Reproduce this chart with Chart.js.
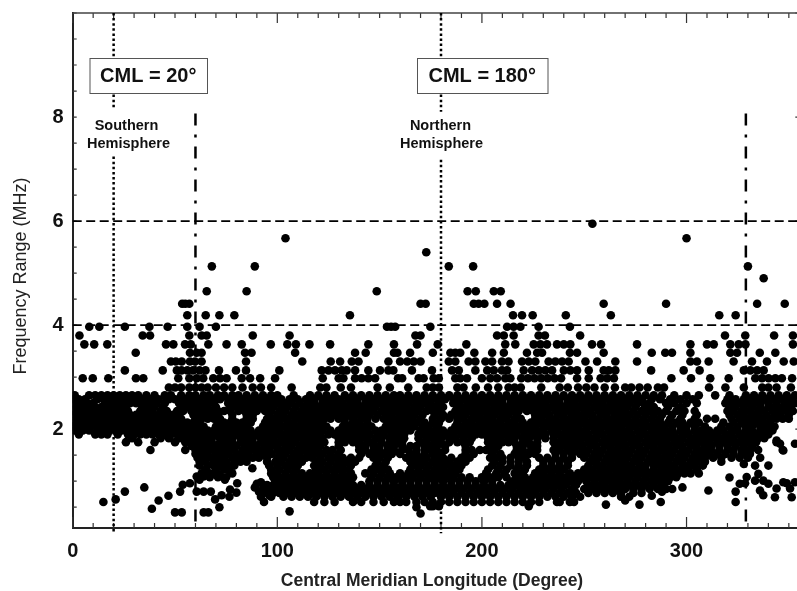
<!DOCTYPE html>
<html>
<head>
<meta charset="utf-8">
<title>CML frequency range</title>
<script src="https://cdn.jsdelivr.net/npm/chart.js@4"></script>
<style>
html, body { margin: 0; background: #fff; overflow: hidden; width: 797px; height: 591px; }
canvas { display: block; }
</style>
</head>
<body>
<canvas id="c" width="830" height="591"></canvas>
<script>
// axis ticks
const xTicks = [0,10,20,30,40,50,60,70,80,90,100,110,120,130,140,150,160,170,180,190,200,210,220,230,240,250,260,270,280,290,300,310,320,330,340,350,360];
const yTicks = [0.5,1,1.5,2,2.5,3,3.5,4,4.5,5,5.5,6,6.5,7,7.5,8,8.5,9,9.5,10];

// isolated high points, longitude and frequency
const highLon = [104,68,89,65.5,85,148.6,172.8,183.8,195.7,193,197,205.8,209.2,254,300,330,337.7];
const highFreq = [5.67,5.13,5.13,4.65,4.65,4.65,5.4,5.13,5.13,4.65,4.65,4.65,4.65,5.95,5.67,5.13,4.9];

// isolated low points
const lowLon = [15,21,25.5,35,38.7,42,46.8,50,53.3,52.5,53.8,57.3,60.6,62,64,67,60.6,64,67.5,69.6,72.8,76.6,76.9,80,80.4,71.7,64,66.3,74.4,72,76.9,87.8,90,92,89,91,96,93.5,106,
  168,170,174.7,176,179,222.9,236.7,243,260.6,270,277,287.4,283,288,293,298,310.7,321,324,324,326,328,333.5,340,
  329.4,328.6,333.5,335.1,337.5,340,335.9,337.5,343.2,344,347.3,350.6,349,353,351.4,345.7,347.3,344,353];
const lowFreq = [0.6,0.65,0.8,0.88,0.47,0.63,0.72,0.4,0.4,0.8,0.93,0.96,1.09,1.03,1.09,1.15,0.8,0.8,0.8,0.65,0.73,0.7,0.84,0.78,0.96,0.5,0.4,0.4,1.03,1.12,1.18,1.25,0.95,0.98,0.88,0.8,0.73,0.6,0.42,
  0.5,0.38,0.52,0.52,0.52,0.52,0.6,0.6,0.55,0.63,0.55,0.6,0.72,0.8,0.85,0.88,0.82,1.07,0.8,0.6,0.95,1.33,1.3,1.3,
  1.08,0.96,1.01,1.14,1.01,0.95,0.82,0.73,0.69,0.86,0.98,0.86,0.96,0.98,0.69,1.72,1.59,1.78,1.72];

// frequency rows, the receiver steps make these levels
const rowLevels = [4.41,4.19,3.97,3.8,3.63,3.47,3.3,3.13,2.98,2.8,2.65,2.575,2.5,2.425,2.35,2.275,2.2,2.125,2.05,1.975,1.9,1.825,1.75,1.675,1.6,1.525,1.45,1.375,1.3,1.225,1.15,1.075,1,0.925,0.85,0.775,0.7,0.6];
const r441 = [53.5,55,57,170,172.5,196,198.4,201.2,207.4,214,259.5,290,334.5,348];
const r419 = [56,65,71.7,79,135.5,215.2,219.6,224.8,241,263,316,324];
const r397 = [8.1,13,25.5,37.5,46.4,56,62,70,153.6,155.6,157.6,174.8,212.3,215.5,218.8,227.7,243];
const r380 = [3.3,34.2,37.8,57,63,65.5,88,106,167.5,170,207.4,210.7,215.5,227.7,230.8,248,318.8,328.7,342.8,352];
const r363 = [5.7,10.5,16.9,45.6,49.2,54.9,57.7,66.3,75.2,82.6,96.8,104.9,109.1,115.7,125.8,144.5,157,168.3,178.4,192.4,211.4,216.3,225.3,228.6,231.8,236.7,240,243.2,253.8,258.2,275.8,301.9,310,313.3,321.4,325.5,328.8,352];
const r347 = [30.8,57.3,60.6,63,84.2,87.4,108.7,138,143.2,157,158.7,164.9,176,184.6,187,189.4,196.3,205,210.7,222,227,229.4,243,246.5,259.5,283,289.6,292.9,301.9,321.4,324.7,335.8,343.4];
const r330 = [48,50.4,53.3,57.3,59.8,63,84.7,112.2,126.1,130.7,136.4,139.7,154.3,160,163.5,166.7,170,183.8,187,193.5,196.8,201.7,205,209.8,213,219.6,222.9,226.1,232.6,235.9,239.2,242.4,250.6,256.3,265.2,275.8,301.9,305.1,310.8,323,332,339.3,347.5,352.4];
const r313 = [25.5,44,50.9,53.2,56,58.8,62,64.9,71.5,79.8,84.7,101,121.7,125,128.2,131.5,133.9,138,144.5,150.2,154.3,156.7,165.8,175.6,185.4,188.7,196.8,202.6,205.8,209.8,212.3,220.4,224.5,227.8,231,234.3,240,243.2,246.5,252.2,259.5,262,265.2,282.7,298.6,306.4,328,331.2,334.5,337.7];
const r298 = [4.9,9.8,17.4,30.9,34.5,51.6,57,60.6,63.8,68.7,72,75.2,82.6,86.7,91.6,98.9,122.2,130,132.3,138,141.2,144.5,147.8,159,161,169.1,171.5,176.4,178.9,187,189.4,192.7,200,204.1,207.4,211.4,213.9,219.2,222.5,225.7,229,232.2,235.5,238.7,246.5,252.2,258,261.2,264.5,292.6,302.2,311.6,320.6,333.6,336.9,340.1,343.4,346.6,351.6];
const r280 = [47,50,53,57,60,63,66,70,74,78,83,88,92,97,107,121,124,131,136,149,155,164,173,176,179,188,191,197,203,208,213,216,219,229,238,242,247,251,255,260,265,270,273,277,281,286,289,311,319,328,337,340,344,351];
const r265 = [1,8,11,14,17,20,23,26,29,32,36,40,45,48,53,57,60,64,67,71,74,78,81,85,89,93,97,100,108,116,120,124,128,133,137,141,145,149,153,157,160,164,168,172,176,180,184,188,192,196,200,204,208,212,216,220,224,228,232,236,240,244,248,252,256,260,264,268,272,276,280,284,288,294,300,306,314,321,329,333,337,341,345,349,353];
const r2575 = [0,3,6,12,15,18,22,25,28,31,34,38,42,47,50,55,59,62,66,69,72,76,80,83,87,91,95,99,102,106,110,114,118,122,126,130,135,139,143,147,151,155,159,162,166,170,174,178,182,186,190,194,198,202,206,210,214,218,222,226,230,234,238,242,246,250,254,258,262,266,270,274,278,283,287,292,297,303,320,324,328,331,335,339,343,347,351];
const r250 = [1,4,7,10,16,19,22,25,28,31,35,38,41,45,52,55,58,62,65,69,76,79,82,86,89,92,96,100,103,107,111,115,118,122,125,129,132,136,139,143,146,150,153,157,161,164,168,172,175,179,186,189,193,196,200,203,207,210,214,217,221,224,228,231,235,238,242,245,249,252,256,259,263,266,269,272,276,279,282,290,294,300,305,319,322,326,329,333,336,340,344,349,353];
const r2425 = [2,5,8,11,14,17,20,23,26,34,37,40,44,53,56,60,63,66,70,77,80,83,85,88,91,94,98,102,105,109,113,117,120,124,127,131,134,138,141,145,148,152,156,160,163,167,170,174,177,181,188,192,195,199,202,206,209,213,216,220,223,227,230,234,237,241,244,248,251,255,258,262,265,268,271,275,280,284,291,297,321,324,328,332,336,340,343,347,351];
const r235 = [0,3,6,9,12,15,18,21,24,27,33,36,39,43,46,51,54,58,61,64,68,71,74,77,81,84,87,90,94,97,101,104,108,112,115,119,122,126,129,133,136,140,143,147,151,154,158,162,165,169,173,176,179,187,190,194,197,201,204,208,211,215,218,222,225,229,232,236,239,243,246,250,253,257,260,264,267,270,274,278,282,286,290,295,299,304,320,323,327,331,335,338,342,345,349,352];
const r2275 = [1,4,7,10,13,16,19,22,25,28,31,34,37,40,43,46,49,52,59,62,65,68,71,78,85,88,96,100,103,107,110,114,117,121,124,128,131,135,138,142,145,149,153,156,160,164,167,171,177,181,185,189,192,196,199,203,206,210,213,217,226,230,233,237,240,244,247,251,254,258,261,265,268,272,276,280,284,288,293,298,305,321,325,328,332,335,339,343,346,350];
const r220 = [2,5,8,11,14,17,20,23,26,29,32,35,38,41,44,47,50,53,60,63,66,69,72,78,85,88,95,98,102,105,109,112,116,119,123,126,130,133,137,141,144,148,152,155,159,163,166,170,176,180,184,188,191,195,198,202,205,209,212,216,219,226,229,233,236,240,243,247,250,254,257,261,264,268,271,275,279,283,287,292,297,304,310,314,322,326,330,334,337,341,344,347,350];
const r2125 = [1,4,7,11,14,17,20,23,26,29,32,35,38,41,44,47,50,53,56,59,62,71,74,77,80,83,87,94,98,101,105,108,112,115,119,122,133,137,140,144,154,158,161,165,168,172,176,179,188,192,195,199,202,206,209,213,216,220,224,228,231,235,238,242,245,249,252,256,259,263,266,270,273,277,280,284,287,291,295,298,302,306,318,323,327,331,334,338,341];
const r205 = [0,3,6,9,13,16,19,22,25,28,31,34,37,40,43,46,49,52,55,58,61,64,70,73,76,79,82,85,93,96,100,103,107,110,114,117,121,124,132,135,139,142,146,153,156,160,163,167,171,174,178,187,190,194,197,201,204,208,211,215,218,222,226,230,233,237,240,244,247,251,254,258,261,265,268,272,275,279,282,286,289,293,297,300,304,309,317,321,325,329,332,336,339,343];
const r1975 = [1,5,8,12,15,18,21,24,27,30,33,36,39,42,45,48,51,54,57,60,63,66,69,72,75,78,81,84,87,91,94,98,101,105,108,112,115,119,122,126,130,133,137,140,144,148,151,155,158,161,165,170,174,177,181,185,188,192,195,199,202,206,209,213,216,220,223,227,230,234,237,241,244,248,251,255,258,262,265,269,272,276,279,283,286,290,293,297,300,304,307,311,315,318,322,325,329,332,336,339,342];
const r190 = [3,11,14,17,22,27,30,33,36,39,42,45,48,51,54,57,60,64,67,70,74,77,80,84,87,90,94,97,100,104,107,111,114,118,121,125,128,132,135,139,142,145,149,152,156,159,162,169,172,176,179,183,186,190,193,197,200,204,207,211,214,217,221,224,228,231,235,238,242,245,249,252,256,259,263,266,270,273,277,280,284,287,291,294,298,301,305,308,312,315,319,322,326,330,333,337,340];
const r1825 = [29,43,47,52,56,59,62,65,68,72,75,78,82,85,88,92,95,98,102,105,109,112,116,119,122,130,134,137,141,144,148,151,155,158,162,169,173,176,180,184,187,191,195,203,206,209,213,216,220,223,227,231,235,239,242,246,249,253,256,260,263,267,270,274,277,281,284,288,291,295,298,302,305,309,312,316,320,323,327,331,335,338];
const r175 = [26,32,40,50,55,59,62,65,68,72,75,78,82,85,88,92,95,99,102,106,109,113,116,120,123,130,133,137,140,144,147,151,155,158,161,170,173,177,180,184,188,191,194,203,206,210,213,216,220,223,227,235,238,241,245,248,252,255,259,262,266,269,273,276,280,283,287,290,294,297,301,304,308,311,315,318,322,326,330,334,344];
const r1675 = [58,61,64,67,70,74,77,80,84,87,90,94,97,100,104,107,111,114,118,121,130,140,143,147,150,154,157,161,165,168,172,175,178,182,192,204,208,217,220,224,227,236,239,242,246,249,253,256,260,263,267,270,274,277,281,284,288,291,295,298,302,305,309,312,316,320,324,328,332];
const r160 = [38,55,60,63,66,69,73,76,79,83,86,89,93,96,100,103,106,110,113,117,120,124,127,131,140,143,147,150,154,157,161,164,168,172,175,178,182,192,195,199,202,206,217,220,224,227,235,238,242,245,249,252,256,259,263,266,270,273,277,280,284,287,291,294,298,301,305,308,312,316,320,323,327,331,335,347];
const r1525 = [60,63,66,70,73,76,80,83,86,90,93,97,101,104,108,111,115,118,122,126,130,141,145,149,152,156,160,165,168,172,176,180,192,196,205,209,216,219,223,226,236,240,244,248,251,255,258,262,265,269,272,276,279,283,286,290,293,297,300,304,307,311,315,319,323,327,331];
const r145 = [61,64,68,71,74,78,81,84,88,91,95,100,103,107,110,114,117,121,125,128,132,136,140,147,150,154,163,166,170,173,177,181,185,190,194,204,207,210,214,218,221,228,232,236,240,244,250,254,257,261,264,268,271,275,278,282,285,289,292,296,299,303,306,309,313,317,322,326,330,336];
const r1375 = [62,65,69,72,75,79,82,85,95,99,102,106,109,112,119,122,126,130,134,138,149,153,165,168,172,176,180,184,188,192,206,210,214,218,222,230,234,238,242,253,256,260,263,267,270,274,277,281,284,288,291,295,298,302,305,309,317];
const r130 = [62,66,69,72,76,79,96,100,104,107,110,118,121,125,129,132,136,148,152,166,170,174,178,182,186,190,205,209,214,218,222,230,234,238,242,252,256,259,263,266,270,273,277,280,284,287,290,294,298,301,304,308];
const r1225 = [65,70,74,97,101,105,109,119,123,127,131,135,146,150,154,165,169,173,177,181,185,189,203,208,212,217,221,228,232,236,240,250,254,258,261,265,268,272,276,280,284,288,292,295,298,301,305];
const r115 = [63,70,78,97,100,104,108,112,116,120,124,128,132,136,143,147,151,155,160,164,168,172,176,180,184,187,202,207,211,216,220,226,230,234,238,243,247,251,255,259,262,266,270,274,278,282,286,290,293,296,299,302,306];
const r1075 = [67,71,75,98,101,105,109,113,117,121,125,129,133,137,146,150,154,158,162,166,170,174,178,182,186,190,194,200,204,208,212,217,221,225,229,233,237,241,245,249,253,257,261,264,268,272,276,280,284,288,292,295];
const r100 = [99,103,107,111,115,119,123,127,131,135,145,149,153,157,161,165,169,173,177,181,185,189,193,197,201,205,215,219,223,227,231,235,239,243,247,251,255,259,263,267,271,275,279,283,287,291];
const r0925 = [95,98,101,105,109,113,117,121,125,129,133,137,141,145,149,153,157,161,165,169,173,177,181,185,189,193,197,201,205,209,213,217,221,225,229,233,237,241,246,252,256,260,264,268,272,276,280,284,288];
const r85 = [93,96,99,103,107,111,115,119,123,127,131,135,139,143,147,151,155,159,163,167,171,175,179,183,187,191,195,199,203,207,211,215,219,223,227,231,235,239,244,250,254,258,262,266,270,274,278,282,286,290];
const r0775 = [93,98,101,105,109,113,117,121,125,129,133,137,141,145,149,153,157,161,165,169,173,177,182,186,190,194,198,202,206,210,214,218,222,226,230,234,238,242,246,252,256,260,264,268,274,278];
const r70 = [92,97,103,107,111,115,119,123,127,131,135,139,143,147,151,155,159,163,167,171,175,180,184,188,192,196,200,204,208,212,216,220,224,228,232,236,240,244,248,268,272];
const r60 = [118,123,128,137,141,147,152,157,160,163,168,172,176,180,184,188,192,196,200,204,208,212,216,220,224,228,238,245];
const rowLons = [r441,r419,r397,r380,r363,r347,r330,r313,r298,r280,r265,r2575,r250,r2425,r235,r2275,r220,r2125,r205,r1975,r190,r1825,r175,r1675,r160,r1525,r145,r1375,r130,r1225,r115,r1075,r100,r0925,r85,r0775,r70,r60];

// reference lines
const dottedLon = [20,180];
const dashDotLon = [60,329];
const dashDotTop = 8.07;
const dashFreq = [6,4];

var points = [];
for (var i = 0; i < highLon.length; i++) points.push({x: highLon[i], y: highFreq[i]});
for (i = 0; i < lowLon.length; i++) points.push({x: lowLon[i], y: lowFreq[i]});
for (i = 0; i < rowLevels.length; i++) {
  for (var j = 0; j < rowLons[i].length; j++) points.push({x: rowLons[i][j], y: rowLevels[i]});
}

function refLine(a, b, dash, width) {
  return {type: "line", data: [a, b], borderColor: "#000", borderWidth: width, borderDash: dash,
    pointRadius: 0, showLine: true, clip: false, order: 1};
}

var datasets = [{data: points, backgroundColor: "#000", borderWidth: 0, pointRadius: 4.3, order: 2}];
dottedLon.forEach(function(lon, k) {
  datasets.push(refLine({x: lon, y: 10}, {x: lon, y: k == 0 ? 8.14 : 8.1}, [2.5, 2.6], 2.5));
  datasets.push(refLine({x: lon, y: k == 0 ? 7.24 : 7.18}, {x: lon, y: 0}, [2.5, 2.6], 2.5));
});
dashDotLon.forEach(function(lon) {
  datasets.push(refLine({x: lon, y: dashDotTop}, {x: lon, y: 0.1}, [12, 9, 3, 9], 2.5));
});
dashFreq.forEach(function(f) {
  datasets.push(refLine({x: 0, y: f}, {x: 360, y: f}, [9, 4.5], 1.8));
});

// inward ticks on all four sides
const frameTicks = {
  id: "frameTicks",
  beforeDatasetsDraw(chart) {
    var c = chart.ctx, a = chart.chartArea;
    var sx = chart.scales.x, sy = chart.scales.y;
    c.save();
    c.strokeStyle = "#333";
    c.lineWidth = 1.2;
    c.beginPath();
    sx.ticks.forEach(function(t) {
      var p = sx.getPixelForValue(t.value);
      var big = t.value % 100 == 0;
      c.moveTo(p, a.top); c.lineTo(p, a.top + (big ? 10 : 5));
      c.moveTo(p, a.bottom); c.lineTo(p, a.bottom - (big ? 11 : 5));
    });
    sy.ticks.forEach(function(t) {
      var p = sy.getPixelForValue(t.value);
      var big = t.value % 2 == 0;
      c.moveTo(a.left, p); c.lineTo(a.left + 4, p);
      c.moveTo(a.right, p); c.lineTo(a.right - (big ? 14 : 5), p);
    });
    c.stroke();
    c.strokeStyle = "#444";
    c.lineWidth = 1.5;
    c.beginPath();
    c.moveTo(a.left, a.top); c.lineTo(a.right, a.top);
    c.moveTo(a.right, a.top); c.lineTo(a.right, a.bottom);
    c.stroke();
    c.restore();
  }
};

// boxes and text written on the plot
const notes = {
  id: "notes",
  afterDraw(chart) {
    var c = chart.ctx;
    c.save();
    function box(x0, x1, text) {
      c.fillStyle = "#fff";
      c.strokeStyle = "#555";
      c.lineWidth = 1;
      c.fillRect(x0, 58, x1 - x0, 35);
      c.strokeRect(x0 + 0.5, 58.5, x1 - x0, 35);
      c.fillStyle = "#111";
      c.font = "bold 20px 'Liberation Sans'";
      c.textAlign = "center";
      c.textBaseline = "middle";
      c.fillText(text, (x0 + x1) / 2, 76);
    }
    box(89.5, 207, "CML = 20°");
    box(417, 547.5, "CML = 180°");
    c.fillStyle = "#111";
    c.font = "bold 14.5px 'Liberation Sans'";
    c.textAlign = "center";
    c.textBaseline = "middle";
    c.fillText("Southern", 126.5, 125.5);
    c.fillText("Hemisphere", 128.5, 143.5);
    c.fillText("Northern", 440.5, 125.5);
    c.fillText("Hemisphere", 441.5, 143.5);
    c.fillStyle = "#222";
    c.font = "bold 17.5px 'Liberation Sans'";
    c.fillText("Central Meridian Longitude (Degree)", 432, 581);
    c.translate(21, 276);
    c.rotate(-Math.PI / 2);
    c.font = "18px 'Liberation Sans'";
    c.fillText("Frequency Range (MHz)", 0, 0);
    c.restore();
  }
};

new Chart(document.getElementById("c"), {
  type: "scatter",
  data: {datasets: datasets},
  plugins: [frameTicks, notes],
  options: {
    responsive: false,
    animation: false,
    layout: {padding: {top: 2, right: 20.7, left: 0, bottom: 0}},
    plugins: {legend: {display: false}, tooltip: {enabled: false}},
    scales: {
      x: {
        type: "linear", min: 0, max: 360,
        afterBuildTicks: function(s) { s.ticks = xTicks.map(function(v) { return {value: v}; }); },
        afterFit: function(s) { s.height = 63; },
        grid: {display: false},
        border: {display: true, color: "#222", width: 2},
        ticks: {autoSkip: false, maxRotation: 0, padding: 3, color: "#111",
          font: {family: "Liberation Sans", size: 20, weight: "bold"},
          callback: function(v) { return v % 100 == 0 ? v : ""; }}
      },
      y: {
        type: "linear", min: 0.1, max: 10,
        afterBuildTicks: function(s) { s.ticks = yTicks.map(function(v) { return {value: v}; }); },
        afterFit: function(s) { s.width = 72.7; },
        grid: {display: false},
        border: {display: true, color: "#222", width: 2},
        ticks: {autoSkip: false, padding: 1, color: "#111",
          font: {family: "Liberation Sans", size: 20, weight: "bold"},
          callback: function(v) { return (v == 2 || v == 4 || v == 6 || v == 8) ? v : ""; }}
      }
    }
  }
});
</script>
</body>
</html>
